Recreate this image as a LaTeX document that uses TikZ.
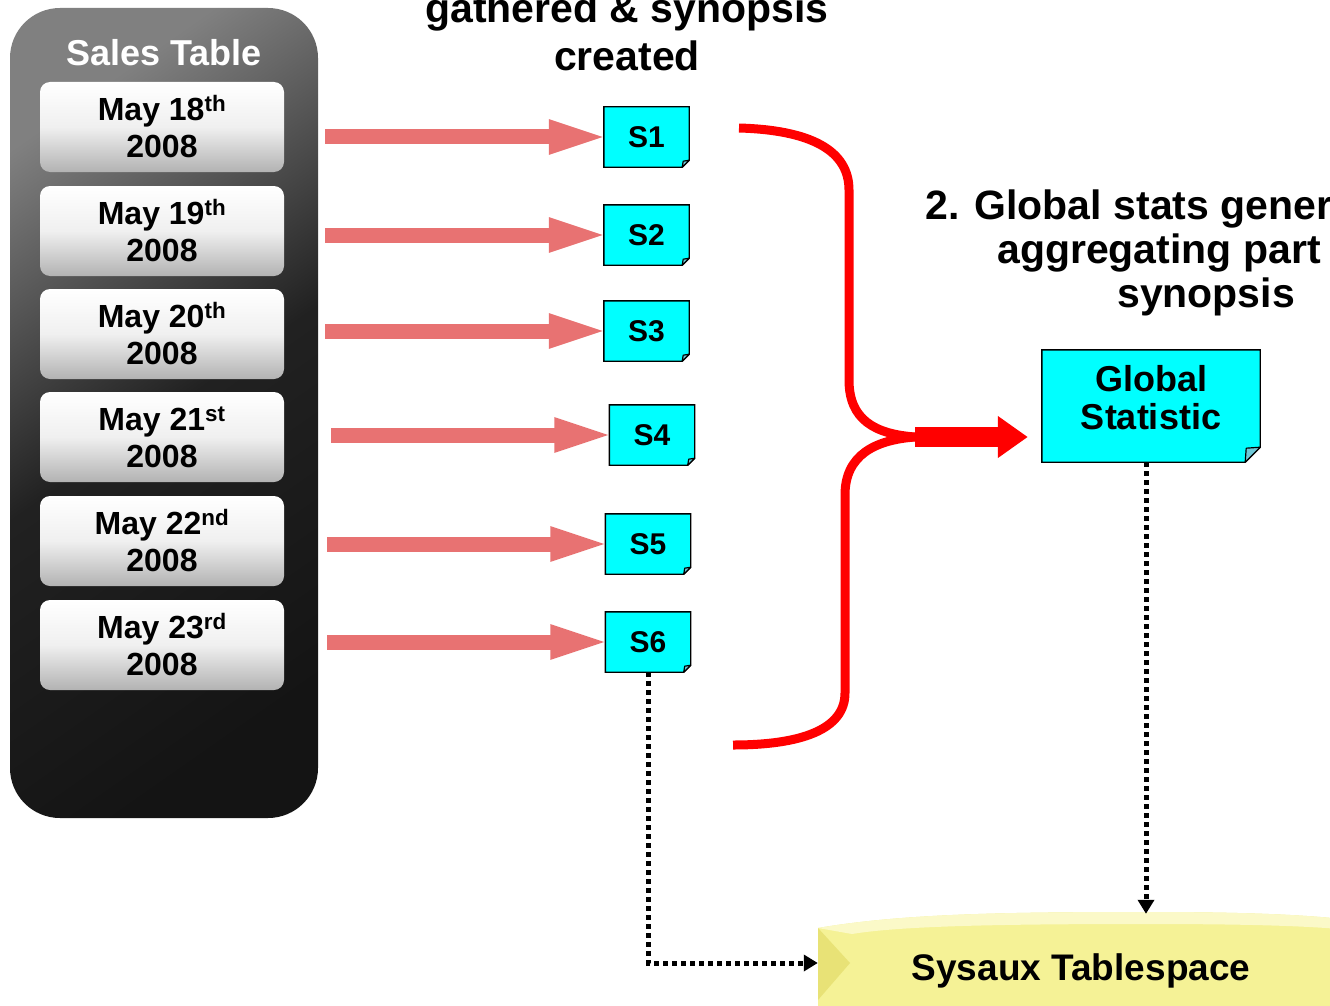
\documentclass[tikz,border=0pt]{standalone}
\usepackage{fontspec}
\setmainfont{Liberation Sans}
\usetikzlibrary{arrows.meta,backgrounds,calc}
\definecolor{pinkar}{RGB}{232,114,114}
\definecolor{cyanf}{RGB}{0,255,255}
\definecolor{foldc}{RGB}{110,200,215}
\definecolor{sysy}{RGB}{245,242,150}
\definecolor{sysdark}{RGB}{232,226,118}
\definecolor{syslight}{RGB}{251,249,200}
\pgfdeclarelayer{bottomlayer}
\pgfsetlayers{bottomlayer,background,main}
\newcommand\foldbox[2]{%
  \draw[line width=1.4pt, fill=cyanf] (#1.north west) -- (#1.north east) -- ([yshift=#2]#1.south east) -- ([xshift=-#2]#1.south east) -- (#1.south west) -- cycle;
  \draw[line width=1.2pt, fill=foldc, line join=round] ([yshift=#2]#1.south east) -- ([xshift=-#2]#1.south east) -- ([xshift=-#2+1pt,yshift=#2-1pt]#1.south east) -- cycle;
}
\begin{document}
\begin{tikzpicture}[x=1pt,y=-1pt,
  panelbox/.style={rounded corners=50pt, minimum width=308pt, minimum height=810pt, inner sep=0pt,
     top color=black!50, bottom color=black!92, middle color=black!87, shading angle=35},
  datebox/.style={rounded corners=10pt, minimum width=244pt, minimum height=90pt, inner sep=0pt,
     top color=white, bottom color=black!30, middle color=black!6,
     font=\fontsize{32}{37}\selectfont\bfseries, align=center},
  sbox/.style={minimum width=85pt, minimum height=60pt, inner sep=0pt,
     font=\fontsize{30}{34}\selectfont\bfseries},
  pinkarrow/.style={draw=pinkar, line width=15pt, -{Triangle[length=62pt,width=30pt]}, shorten >=-7pt},
  bigtext/.style={font=\fontsize{41}{46}\selectfont\bfseries, inner sep=0pt},
  dotline/.style={line width=5pt, dash pattern=on 5pt off 4pt, -{Triangle[length=14pt,width=16pt]}},
  bracestyle/.style={draw=red, line width=9pt},
]
\begin{pgfonlayer}{bottomlayer}
\fill[white] (0,0) rectangle (1330,1006);
\end{pgfonlayer}
\useasboundingbox (0,0) rectangle (1330,1006);

% Sales table panel
\node[panelbox] (panel) at (164,413) {};
\node[font=\fontsize{36}{40}\selectfont\bfseries, text=white, inner sep=0pt] (stitle) at (164,53) {Sales Table};

\node[datebox] (d1) at (162,127) {May 18\textsuperscript{th}\\2008};
\node[datebox] (d2) at (162,231) {May 19\textsuperscript{th}\\2008};
\node[datebox] (d3) at (162,334) {May 20\textsuperscript{th}\\2008};
\node[datebox] (d4) at (162,437) {May 21\textsuperscript{st}\\2008};
\node[datebox] (d5) at (162,541) {May 22\textsuperscript{nd}\\2008};
\node[datebox] (d6) at (162,645) {May 23\textsuperscript{rd}\\2008};

% synopsis boxes
\node[sbox] (s1) at (646.5,137) {S1};
\node[sbox] (s2) at (646.5,235) {S2};
\node[sbox] (s3) at (646.5,331) {S3};
\node[sbox] (s4) at (652,435) {S4};
\node[sbox] (s5) at (648,544) {S5};
\node[sbox] (s6) at (648,642) {S6};

% global statistic
\node[minimum width=218pt, minimum height=112pt, inner sep=0pt] (glob) at (1151,406) {};
\node[font=\fontsize{36}{38}\selectfont\bfseries, align=center, inner sep=0pt, anchor=north] (globt) at (1151,365) {Global\\Statistic};

% sysaux
\node[minimum width=526pt, minimum height=114pt, inner sep=0pt, font=\fontsize{37}{40}\selectfont\bfseries] (sys) at (1081,971) {Sysaux Tablespace};

\begin{scope}[on background layer]
  \foldbox{s1}{7pt}
  \foldbox{s2}{7pt}
  \foldbox{s3}{7pt}
  \foldbox{s4}{7pt}
  \foldbox{s5}{7pt}
  \foldbox{s6}{7pt}
  \foldbox{glob}{15pt}
  % sysaux shape
  \fill[black!10] (824,936) .. controls (900,922) and (1000,920) .. (1146,920) .. controls (1250,920) and (1310,923) .. (1350,928) -- (1350,1015) -- (824,1015) -- cycle;
  \fill[sysy] (818,928) .. controls (900,914) and (1000,912) .. (1146,912) .. controls (1250,912) and (1310,915) .. (1350,920) -- (1350,1010) -- (818,1010) -- cycle;
  \fill[syslight] (818,928) .. controls (900,914) and (1000,912) .. (1146,912) .. controls (1250,912) and (1310,915) .. (1350,920) -- (1350,930) .. controls (1310,926) and (1250,924) .. (1146,924) .. controls (1000,924) and (900,926) .. (852,934) -- cycle;
  \fill[sysdark] (818,928) -- (850,963) -- (818,1000) -- cycle;
\end{scope}

% title texts
\node[bigtext, anchor=base] (t1) at (627,23) {gathered \& synopsis};
\node[bigtext, anchor=base] (t2) at (627,71) {created};
\node[bigtext, anchor=base west] (g1) at (925,219) {2. Global stats gener};
\node[bigtext, anchor=base west] (g2) at (997,263) {aggregating part};
\node[bigtext, anchor=base west] (g3) at (1117,307) {synopsis};

% pink arrows
\coordinate (a1) at (325,137);
\coordinate (a2) at (325,235);
\coordinate (a3) at (325,331);
\coordinate (a4) at (331,435);
\coordinate (a5) at (327,544);
\coordinate (a6) at (327,642);
\draw[pinkarrow] (a1) -- (s1.west);
\draw[pinkarrow] (a2) -- (s2.west);
\draw[pinkarrow] (a3) -- (s3.west);
\draw[pinkarrow] (a4) -- (s4.west);
\draw[pinkarrow] (a5) -- (s5.west);
\draw[pinkarrow] (a6) -- (s6.west);

% red brace
\coordinate (bt) at (739,128);
\coordinate (bj) at (915,437);
\coordinate (bb) at (733,745);
\draw[bracestyle] (bt) .. controls (810,130) and (849,150) .. (849,190) -- (849,380) .. controls (849,420) and (875,434) .. (bj);
\draw[bracestyle] (bj) .. controls (875,440) and (845,455) .. (845,495) -- (845,693) .. controls (845,730) and (800,745) .. (bb);
\draw[red, line width=20pt, -{Triangle[length=30pt,width=40pt]}, shorten >=14pt] (bj) -- (glob.west |- bj);

% dotted connectors
\draw[dotline] ([xshift=-5pt]glob.south) -- ([xshift=-5pt]glob.south |- sys.north);
\draw[dotline] (s6.south) |- ([yshift=8pt]sys.west);
\end{tikzpicture}
\end{document}
